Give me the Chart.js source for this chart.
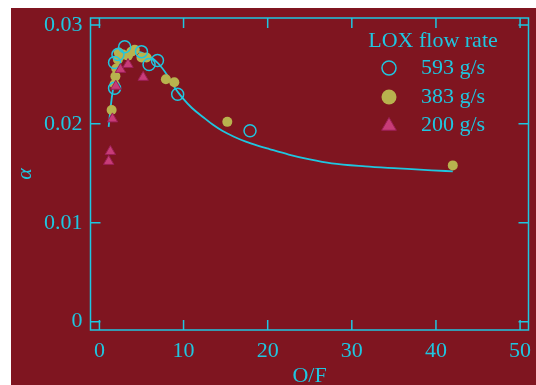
<!DOCTYPE html>
<html>
<head>
<meta charset="utf-8">
<script src="https://cdn.jsdelivr.net/npm/chart.js@4.4.1/dist/chart.umd.min.js"></script>
<style>
    html, body { margin: 0; padding: 0; background: #ffffff; }
    #wrap { width: 536px; height: 385px; position: relative; }
</style>
</head>
<body>
<div id="wrap"><canvas id="chart" width="536" height="385"></canvas></div>
<script>
// Data
const curveX = [1.1, 1.35, 1.6, 2.0, 2.5, 3.0, 3.5, 4.0, 4.5, 5.0, 6.0, 7.0, 8.0, 9.0, 9.9, 11.0, 12.3, 13.5, 14.6, 16.0, 17.4, 18.8, 20.2, 22.5, 25.0, 27.6, 31.6, 35.5, 39.5, 42.0];
const curveY = [0.0197, 0.0218, 0.0234, 0.0252, 0.0263, 0.0269, 0.0272, 0.0273, 0.0273, 0.0272, 0.0268, 0.0261, 0.0250, 0.0236, 0.0226, 0.0216, 0.0207, 0.0199, 0.0193, 0.0187, 0.0182, 0.0178, 0.01745, 0.0169, 0.0164, 0.0160, 0.0157, 0.0155, 0.0153, 0.0152];

const flow593X = [1.8, 1.8, 2.2, 3.0, 5.0, 5.9, 6.9, 9.3, 17.9];
const flow593Y = [0.0236, 0.0262, 0.0270, 0.0278, 0.0273, 0.0260, 0.0264, 0.0230, 0.0193];

const flow383X = [1.45, 1.8, 1.9, 2.0, 2.2, 2.3, 2.8, 3.4, 3.8, 4.2, 5.0, 5.6, 7.9, 8.9, 15.2, 42.0];
const flow383Y = [0.0214, 0.0240, 0.0248, 0.0256, 0.0265, 0.0272, 0.0270, 0.0269, 0.0273, 0.0275, 0.0267, 0.0267, 0.0245, 0.0242, 0.0202, 0.0158];

const flow200X = [1.1, 1.3, 1.55, 1.95, 2.5, 3.4, 5.2];
const flow200Y = [0.0162, 0.0172, 0.0205, 0.0238, 0.0255, 0.0260, 0.0247];

const xTicks = [0, 10, 20, 30, 40, 50];
const yTicks = [0, 0.01, 0.02, 0.03];
const yTickLabels = ['0', '0.01', '0.02', '0.03'];
const legendTitle = 'LOX flow rate';
const legendLabels = ['593 g/s', '383 g/s', '200 g/s'];

const CYAN = '#1fc6e0';
const RED = '#7f1520';
const OLIVE = '#b8b24e';
const PINK = '#c83c78';
const PINK_EDGE = '#9c1f55';
const FONT = '"Liberation Serif", "Times New Roman", serif';

function pts(xs, ys) {
    return xs.map((x, i) => ({ x: x, y: ys[i] }));
}

// red panel behind everything
const panelPlugin = {
    id: 'panel',
    beforeDraw(chart) {
        const ctx = chart.ctx;
        ctx.save();
        ctx.fillStyle = RED;
        ctx.fillRect(11, 8, chart.width - 11, chart.height - 8);
        ctx.restore();
    }
};

// frame + inward ticks on all four sides, and the legend
const framePlugin = {
    id: 'frame',
    afterDraw(chart) {
        const ctx = chart.ctx;
        const a = chart.chartArea;
        const xs = chart.scales.x, ys = chart.scales.y;
        ctx.save();
        ctx.strokeStyle = CYAN;
        ctx.lineWidth = 1.5;
        ctx.strokeRect(a.left, a.top, a.right - a.left, a.bottom - a.top);
        ctx.beginPath();
        xTicks.forEach(v => {
            const px = xs.getPixelForValue(v);
            ctx.moveTo(px, a.bottom); ctx.lineTo(px, a.bottom - 10);
            ctx.moveTo(px, a.top); ctx.lineTo(px, a.top + 10);
        });
        yTicks.forEach(v => {
            const py = ys.getPixelForValue(v);
            ctx.moveTo(a.left, py); ctx.lineTo(a.left + 10, py);
            ctx.moveTo(a.right, py); ctx.lineTo(a.right - 10, py);
        });
        ctx.stroke();

        // legend
        ctx.fillStyle = CYAN;
        ctx.font = '22px ' + FONT;
        ctx.textBaseline = 'middle';
        ctx.textAlign = 'center';
        ctx.fillText(legendTitle, 433, 41);
        ctx.textAlign = 'left';
        const rows = [68, 97, 125];
        const mx = 389;
        rows.forEach((y, i) => {
            ctx.fillStyle = CYAN;
            ctx.fillText(legendLabels[i], 421, y);
        });
        // markers
        ctx.beginPath();
        ctx.arc(mx, rows[0], 7, 0, Math.PI * 2);
        ctx.lineWidth = 1.5;
        ctx.strokeStyle = CYAN;
        ctx.stroke();
        ctx.beginPath();
        ctx.arc(mx, rows[1], 7.5, 0, Math.PI * 2);
        ctx.fillStyle = OLIVE;
        ctx.fill();
        const r = 8.5, cy = rows[2] + 1;
        ctx.beginPath();
        ctx.moveTo(mx, cy - r);
        ctx.lineTo(mx + r * 0.866, cy + r / 2);
        ctx.lineTo(mx - r * 0.866, cy + r / 2);
        ctx.closePath();
        ctx.fillStyle = PINK;
        ctx.fill();
        ctx.lineWidth = 1;
        ctx.strokeStyle = PINK_EDGE;
        ctx.stroke();
        ctx.restore();
    }
};

document.addEventListener("DOMContentLoaded", function() {
    const ctx = document.getElementById('chart').getContext('2d');
    new Chart(ctx, {
        type: 'scatter',
        data: {
            datasets: [
                {
                    label: '200 g/s',
                    data: pts(flow200X, flow200Y),
                    pointStyle: 'triangle',
                    pointRadius: 6,
                    backgroundColor: PINK,
                    borderColor: PINK_EDGE,
                    borderWidth: 1,
                    order: 1
                },
                {
                    label: '593 g/s',
                    data: pts(flow593X, flow593Y),
                    pointStyle: 'circle',
                    pointRadius: 6,
                    backgroundColor: 'rgba(0,0,0,0)',
                    borderColor: CYAN,
                    borderWidth: 1.5,
                    order: 2
                },
                {
                    label: '383 g/s',
                    data: pts(flow383X, flow383Y),
                    pointStyle: 'circle',
                    pointRadius: 5,
                    backgroundColor: OLIVE,
                    borderWidth: 0,
                    order: 3
                },
                {
                    label: 'fit',
                    data: pts(curveX, curveY),
                    showLine: true,
                    pointRadius: 0,
                    borderColor: CYAN,
                    borderWidth: 1.8,
                    cubicInterpolationMode: 'monotone',
                    order: 4
                }
            ]
        },
        options: {
            responsive: false,
            animation: false,
            devicePixelRatio: 1,
            layout: { padding: { top: 18, right: 5, left: 0, bottom: 0 } },
            plugins: {
                legend: { display: false },
                tooltip: { enabled: false }
            },
            scales: {
                x: {
                    type: 'linear',
                    min: -1.06,
                    max: 51,
                    grid: { display: false, drawTicks: false },
                    border: { display: false },
                    afterBuildTicks: s => { s.ticks = xTicks.map(v => ({ value: v })); },
                    afterFit: s => { s.height = 55; s.paddingLeft = 0; s.paddingRight = 0; },
                    ticks: {
                        color: CYAN,
                        padding: 8,
                        maxRotation: 0,
                        font: { family: FONT, size: 22 },
                        callback: v => String(v)
                    },
                    title: {
                        display: true,
                        text: 'O/F',
                        color: CYAN,
                        padding: { top: 0, bottom: 0 },
                        font: { family: FONT, size: 22, lineHeight: 0.8 }
                    }
                },
                y: {
                    type: 'linear',
                    min: -0.00084,
                    max: 0.0307,
                    grid: { display: false, drawTicks: false },
                    border: { display: false },
                    afterBuildTicks: s => { s.ticks = yTicks.map(v => ({ value: v })); },
                    afterFit: s => { s.width = 90.5; s.paddingTop = 0; s.paddingBottom = 0; },
                    ticks: {
                        color: CYAN,
                        padding: 8,
                        font: { family: FONT, size: 22 },
                        callback: v => yTickLabels[yTicks.indexOf(v)]
                    },
                    title: {
                        display: true,
                        text: 'α',
                        color: CYAN,
                        padding: { top: 12, bottom: 0 },
                        font: { family: FONT, size: 22, style: 'italic' }
                    }
                }
            }
        },
        plugins: [panelPlugin, framePlugin]
    });
});
</script>
</body>
</html>
